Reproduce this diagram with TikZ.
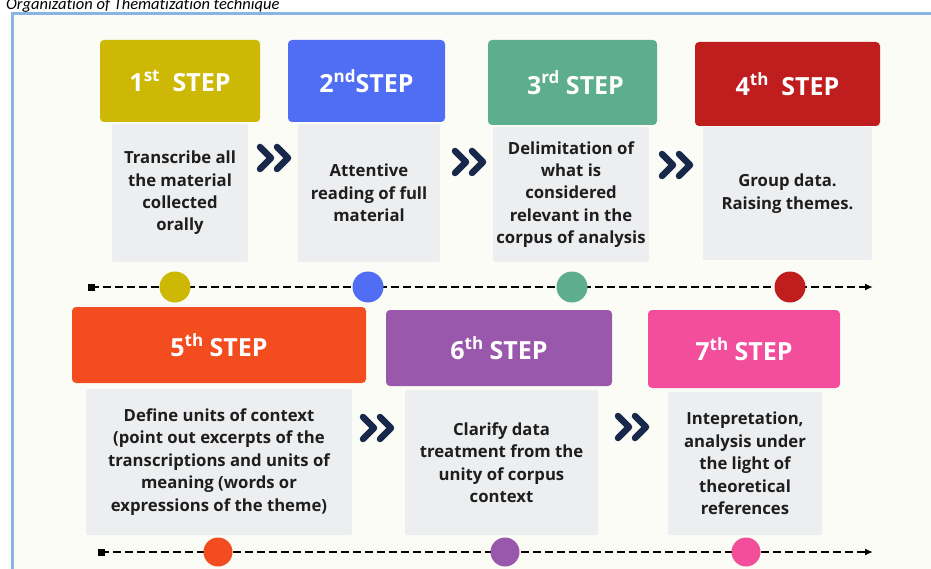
\documentclass[tikz,border=0pt]{standalone}
\usepackage{fontspec}
\setmainfont{Open Sans}
\newfontfamily\titlefont[Ligatures=NoCommon]{Carlito}
\usetikzlibrary{arrows.meta}
\definecolor{cyellow}{HTML}{CDB806}
\definecolor{cblue}{HTML}{506EF3}
\definecolor{cgreen}{HTML}{5DAE8F}
\definecolor{cred}{HTML}{C01E1E}
\definecolor{corange}{HTML}{F34D1F}
\definecolor{cpurple}{HTML}{9A58AC}
\definecolor{cpink}{HTML}{F24E9C}
\definecolor{cbody}{HTML}{EDEEF0}
\definecolor{cnavy}{HTML}{17284A}
\definecolor{cframe}{HTML}{8CB4E3}
\definecolor{cpaper}{HTML}{FCFCF7}
\definecolor{ctext}{HTML}{1E1E1E}
\newcommand{\sups}[1]{\raisebox{0.42em}{\fontsize{17}{17}\selectfont #1}}
\tikzset{
  header/.style={fill=#1, rounded corners=4pt, text=white, font=\fontsize{25}{28}\selectfont\bfseries, inner sep=0pt},
  bodybox/.style={fill=cbody, rounded corners=2pt, text=ctext, align=center, font=\fontsize{16.7}{22.4}\selectfont\bfseries, inner sep=0pt},
  dot/.style={circle, fill=#1, minimum size=31pt, inner sep=0pt},
  tstart/.style={fill=black, minimum size=7pt, inner sep=0pt},
  tline/.style={line width=2.6pt, dash pattern=on 8pt off 4pt, -{Latex[length=8pt,width=7pt]}},
  chev/.style={cnavy, line width=6.5pt, line cap=round, line join=round}
}
\newcommand{\chevpair}[2]{%
  \draw[chev] (#1+4,#2-11) -- (#1+15,#2) -- (#1+4,#2+11);
  \draw[chev] (#1+21,#2-11) -- (#1+32,#2) -- (#1+21,#2+11);}
\begin{document}
\begin{tikzpicture}[x=1pt,y=-1pt]
\useasboundingbox (0,0) rectangle (931,569);
\fill[white] (0,0) rectangle (931,569);
\fill[cpaper] (12,14) rectangle (931,569);
\draw[cframe, line width=3pt] (12,569) -- (12,14) -- (931,14);
\node[anchor=base west, font=\titlefont\itshape\fontsize{16.5}{20}\selectfont, text=black, inner sep=0pt] (title) at (6,10) {Organization of Thematization technique};

% headers
\node[header=cyellow, minimum width=160pt, minimum height=82pt] (h1) at (180,81) {1\sups{st}\ \ STEP};
\node[header=cblue, minimum width=157pt, minimum height=82pt] (h2) at (366.5,81) {2\sups{nd}STEP};
\node[header=cgreen, minimum width=169pt, minimum height=85pt] (h3) at (572.5,82.5) {\hspace*{6pt}3\sups{rd}\ STEP};
\node[header=cred, minimum width=185pt, minimum height=84pt] (h4) at (787.5,84) {4\sups{th}\ \ STEP};
\node[header=corange, minimum width=294pt, minimum height=76pt] (h5) at (219,345) {5\sups{th}\ STEP};
\node[header=cpurple, minimum width=226pt, minimum height=76pt] (h6) at (499,348) {6\sups{th}\ STEP};
\node[header=cpink, minimum width=192pt, minimum height=78pt] (h7) at (744,349) {7\sups{th}\ STEP};

% bodies
\node[bodybox, minimum width=136pt, minimum height=138pt] (b1) at (180,193) {Transcribe all\\the material\\collected\\orally};
\node[bodybox, minimum width=142pt, minimum height=138pt] (b2) at (369,193) {Attentive\\reading of full\\material};
\node[bodybox, minimum width=156pt, minimum height=135pt] (b3) at (571,194.5) {Delimitation of\\what is\\considered\\relevant in the\\corpus of analysis};
\node[bodybox, minimum width=169pt, minimum height=133pt] (b4) at (787.5,193.5) {Group data.\\Raising themes.};
\node[bodybox, minimum width=266pt, minimum height=146pt] (b5) at (219,462) {Define units of context\\(point out excerpts of the\\transcriptions and units of\\meaning (words or\\expressions of the theme)};
\node[bodybox, minimum width=193pt, minimum height=145pt] (b6) at (501.5,462.5) {Clarify data\\treatment from the\\unity of corpus\\context};
\node[bodybox, minimum width=154pt, minimum height=143pt] (b7) at (745,463.5) {Intepretation,\\analysis under\\the light of\\theoretical\\references};

% chevrons
\chevpair{256}{158}
\chevpair{451}{162}
\chevpair{658}{165}
\chevpair{359}{428}
\chevpair{614}{427}

% timeline 1
\node[tstart] (s1) at (91,287) {};
\coordinate (e1) at (873,287);
\draw[tline] (s1.center) -- (e1);
\node[dot=cyellow] (d1) at (175,287) {};
\node[dot=cblue] (d2) at (368,287) {};
\node[dot=cgreen] (d3) at (572,287) {};
\node[dot=cred] (d4) at (790,287) {};

% timeline 2
\node[tstart] (s2) at (101,552) {};
\coordinate (e2) at (873,552);
\draw[tline] (s2.center) -- (e2);
\node[dot=corange, minimum size=29pt] (d5) at (218,552) {};
\node[dot=cpurple, minimum size=29pt] (d6) at (505,552) {};
\node[dot=cpink, minimum size=29pt] (d7) at (746,552) {};
\end{tikzpicture}
\end{document}
